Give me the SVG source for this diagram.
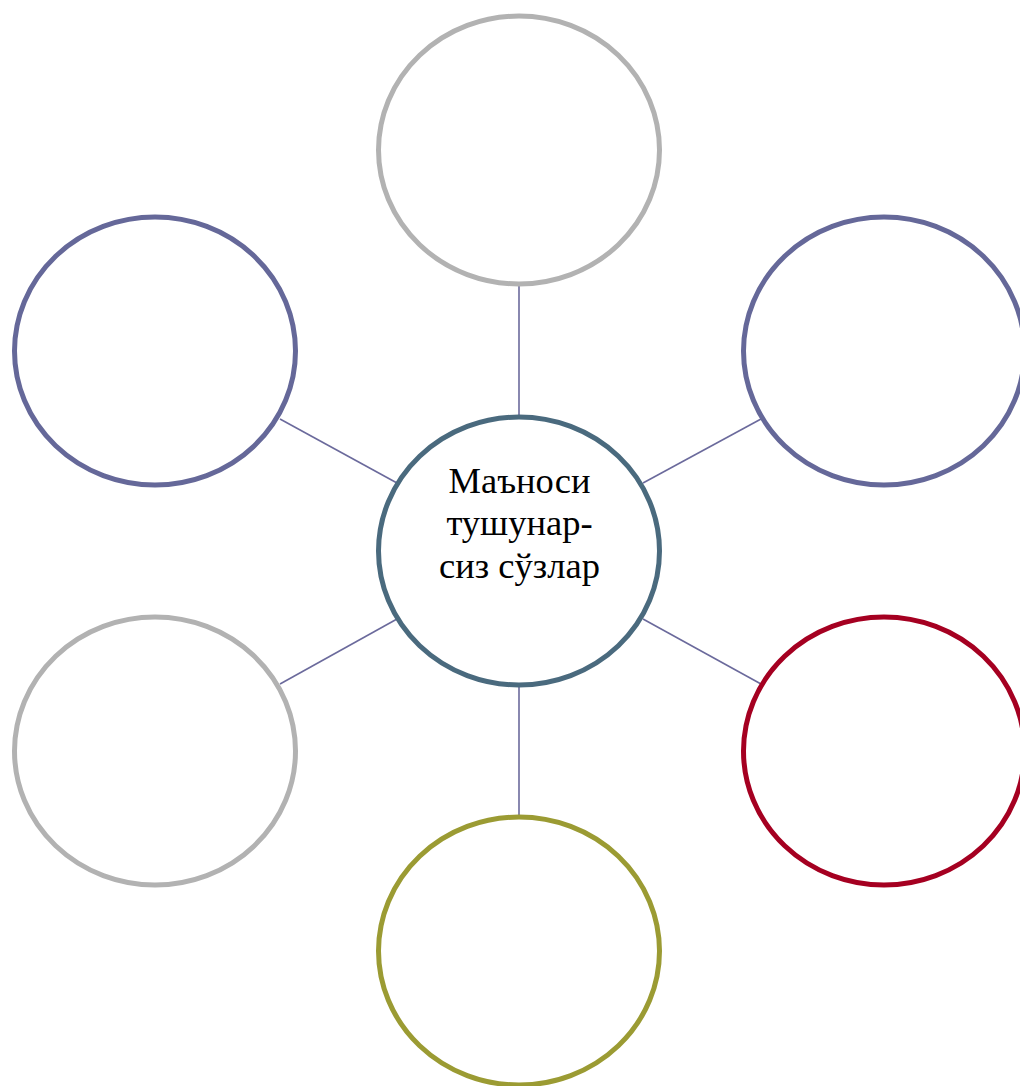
<svg xmlns="http://www.w3.org/2000/svg" width="1020" height="1086" viewBox="0 0 1020 1086">
<style>
.n{fill:#fff;stroke-width:5}
.c{stroke:#6B6A9C;stroke-width:1.6;fill:none}
.t{font-family:"Liberation Serif","Times New Roman",serif;font-size:36.5px;fill:#000;text-anchor:middle}
</style>
<rect width="1020" height="1086" fill="#fff"/>
<g id="connectors">
<line class="c" x1="519" y1="285" x2="519" y2="416"/>
<line class="c" x1="280" y1="419" x2="397" y2="483"/>
<line class="c" x1="643" y1="483" x2="761" y2="419"/>
<line class="c" x1="397" y1="619" x2="280" y2="684"/>
<line class="c" x1="643" y1="619" x2="761" y2="684"/>
<line class="c" x1="519" y1="686" x2="519" y2="817"/>
</g>
<g id="node-top"><ellipse class="n" cx="519" cy="150" rx="140.5" ry="134" stroke="#B2B2B2"/></g>
<g id="node-left-top"><ellipse class="n" cx="155" cy="351" rx="140.5" ry="134" stroke="#656899"/></g>
<g id="node-right-top"><ellipse class="n" cx="884" cy="351" rx="140.5" ry="134" stroke="#656899"/></g>
<g id="node-left-bottom"><ellipse class="n" cx="155" cy="751" rx="140.5" ry="134" stroke="#B2B2B2"/></g>
<g id="node-right-bottom"><ellipse class="n" cx="884" cy="751" rx="140.5" ry="134" stroke="#A50021"/></g>
<g id="node-bottom"><ellipse class="n" cx="519" cy="951" rx="140.5" ry="134" stroke="#9B9B33"/></g>
<g id="node-center">
<ellipse class="n" cx="519" cy="551" rx="140.5" ry="134" stroke="#4A6A7E"/>
<text class="t" x="519.5" y="493">Маъноси</text>
<text class="t" x="519.5" y="535">тушунар-</text>
<text class="t" x="519.5" y="578">сиз сўзлар</text>
</g>
</svg>
